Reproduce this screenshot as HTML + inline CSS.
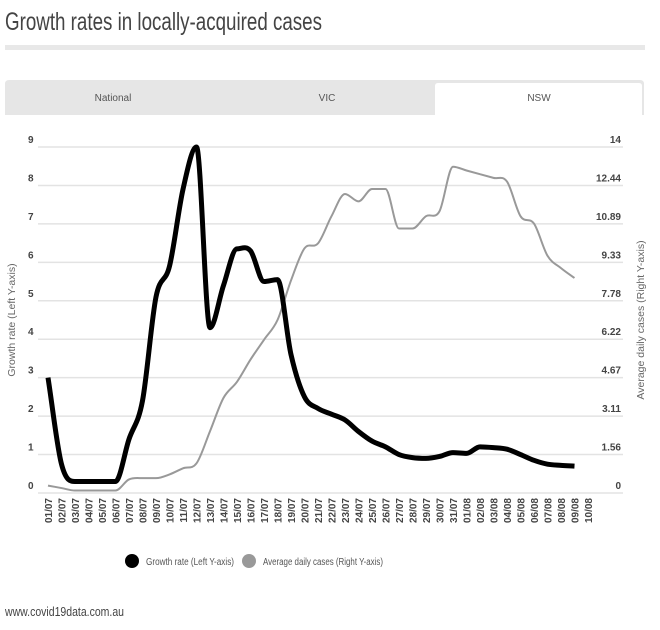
<!DOCTYPE html>
<html><head><meta charset="utf-8"><style>
body{margin:0;width:660px;height:625px;background:#fff;font-family:"Liberation Sans",sans-serif;overflow:hidden}
svg text{font-family:"Liberation Sans",sans-serif}
</style></head><body>
<svg id="c" width="660" height="625" viewBox="0 0 660 625" xmlns="http://www.w3.org/2000/svg">
<text x="5" y="30" font-size="25" fill="#444" textLength="317" lengthAdjust="spacingAndGlyphs">Growth rates in locally-acquired cases</text>
<rect x="5" y="45" width="640" height="5" fill="#e8e8e8"/>
<g>
<path d="M5,115 V84 Q5,80 9,80 H640 Q644,80 644,84 V115 Z" fill="#e6e6e6"/>
<g><text x="113" y="101" font-size="10" fill="#555" text-anchor="middle">National</text></g>
<g><text x="327" y="101" font-size="10" fill="#555" text-anchor="middle">VIC</text></g>
<g><path d="M435,115 V86 Q435,83 438,83 H639 Q642,83 642,86 V115 Z" fill="#fff"/><text x="539" y="101" font-size="10" fill="#555" text-anchor="middle">NSW</text></g>
</g>
<g id="grid"></g><g id="axes"></g><g id="series"></g>
<text transform="translate(15,320) rotate(-90)" font-size="10.5" fill="#666" text-anchor="middle">Growth rate (Left Y-axis)</text>
<text transform="translate(644,320) rotate(-90)" font-size="10.5" fill="#666" text-anchor="middle">Average daily cases (Right Y-axis)</text>
<g>
<g><circle cx="132" cy="561" r="7" fill="#000"/><text x="146" y="565" font-size="10" fill="#555" textLength="88" lengthAdjust="spacingAndGlyphs">Growth rate (Left Y-axis)</text></g>
<g><circle cx="249" cy="561" r="7" fill="#999"/><text x="263" y="565" font-size="10" fill="#555" textLength="120" lengthAdjust="spacingAndGlyphs">Average daily cases (Right Y-axis)</text></g>
</g>
<text x="5" y="616" font-size="13" fill="#444" textLength="119" lengthAdjust="spacingAndGlyphs">www.covid19data.com.au</text>
</svg>
<script>
const categories=["01/07","02/07","03/07","04/07","05/07","06/07","07/07","08/07","09/07","10/07","11/07","12/07","13/07","14/07","15/07","16/07","17/07","18/07","19/07","20/07","21/07","22/07","23/07","24/07","25/07","26/07","27/07","28/07","29/07","30/07","31/07","01/08","02/08","03/08","04/08","05/08","06/08","07/08","08/08","09/08","10/08"];
const growthRate=[3,0.75,0.3,0.3,0.3,0.3,1.4,2.4,5.1,5.9,7.9,9.0,4.3,5.4,6.35,6.3,5.5,5.55,3.6,2.5,2.2,2.05,1.9,1.6,1.35,1.2,1.0,0.92,0.9,0.95,1.05,1.03,1.2,1.18,1.14,1.0,0.85,0.75,0.72,0.7];
const avgDailyCases=[0.3,0.2,0.1,0.1,0.1,0.1,0.55,0.6,0.6,0.75,1.0,1.2,2.5,3.85,4.5,5.4,6.2,7.0,8.6,9.9,10.1,11.2,12.1,11.8,12.3,12.3,10.7,10.7,11.2,11.4,13.2,13.05,12.9,12.75,12.6,11.2,10.9,9.6,9.1,8.7];
const leftTicks=[0,1,2,3,4,5,6,7,8,9];
const rightTicks=["0","1.56","3.11","4.67","6.22","7.78","9.33","10.89","12.44","14"];
const leftMax=9,rightMax=14;
const NS="http://www.w3.org/2000/svg";
const x0=48,dx=13.5,yTop=147,yBot=493;
function xs(i){return x0+i*dx;}
function yl(v){return yBot-(v/leftMax)*(yBot-yTop);}
function yr(v){return yBot-(v/rightMax)*(yBot-yTop);}
function mk(t,a,p){const e=document.createElementNS(NS,t);for(const k in a)e.setAttribute(k,a[k]);p.appendChild(e);return e;}
const grid=document.getElementById('grid'),axes=document.getElementById('axes'),ser=document.getElementById('series');
leftTicks.forEach((v,i)=>{
 const y=yl(v);
 const g=mk('line',{x1:38,x2:623,y1:y,y2:y,stroke:'#e3e3e3','stroke-width':1.5},grid);
 
 
 const t=mk('text',{x:28,y:y-4,'font-size':10,fill:'#444','font-weight':'bold'},axes);t.textContent=v;
 
 
 const r=mk('text',{x:621,y:y-4,'font-size':10,fill:'#444','font-weight':'bold','text-anchor':'end'},axes);r.textContent=rightTicks[i];
 
 
});
categories.forEach((c,i)=>{
 const t=mk('text',{transform:`translate(${xs(i)+4},498) rotate(-90)`,'font-size':10,fill:'#444','font-weight':'bold','text-anchor':'end'},axes);t.textContent=c;
 
 
});
function smooth(pts){
 const n=pts.length;const m=[];const d=[];
 for(let i=0;i<n-1;i++)d.push((pts[i+1][1]-pts[i][1])/(pts[i+1][0]-pts[i][0]));
 for(let i=0;i<n;i++){if(i==0)m.push(d[0]);else if(i==n-1)m.push(d[n-2]);else m.push(d[i-1]*d[i]<=0?0:(d[i-1]+d[i])/2);}
 let s=`M${pts[0][0]},${pts[0][1]}`;
 for(let i=0;i<n-1;i++){const h=(pts[i+1][0]-pts[i][0])/3;
  s+=` C${pts[i][0]+h},${pts[i][1]+m[i]*h} ${pts[i+1][0]-h},${pts[i+1][1]-m[i+1]*h} ${pts[i+1][0]},${pts[i+1][1]}`;}
 return s;}
const p2=mk('path',{d:smooth(avgDailyCases.map((v,i)=>[xs(i),yr(v)])),fill:'none',stroke:'#999','stroke-width':2},ser);


const p1=mk('path',{d:smooth(growthRate.map((v,i)=>[xs(i),yl(v)])),fill:'none',stroke:'#000','stroke-width':5,'stroke-linejoin':'round'},ser);


</script>
</body></html>
